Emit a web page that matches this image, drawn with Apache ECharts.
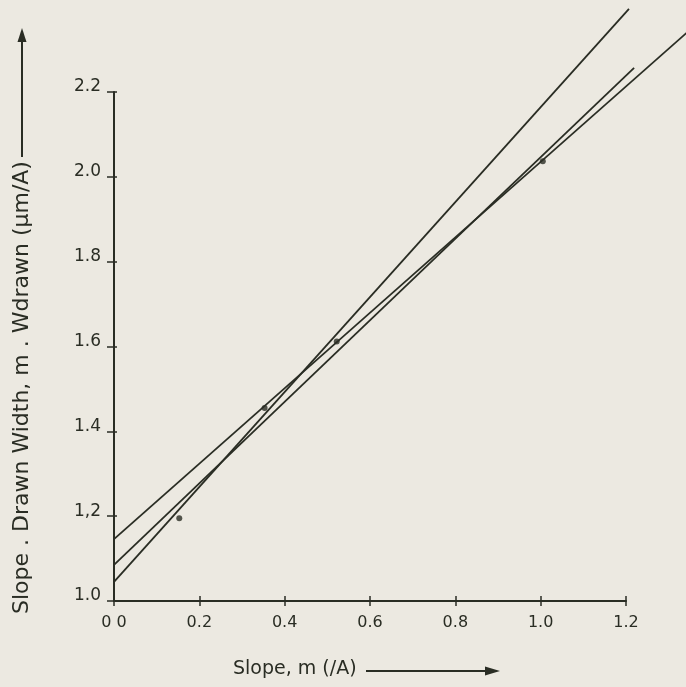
<!DOCTYPE html>
<html>
<head>
<meta charset="utf-8">
<script src="https://cdn.jsdelivr.net/npm/echarts@6/dist/echarts.min.js"></script>
<style>
  html, body { margin: 0; padding: 0; background: #ece9e1; }
  #chart { width: 686px; height: 687px; }
</style>
</head>
<body>
<div id="chart"></div>
<script>
// Axis ticks
const xTicks = [0.0, 0.2, 0.4, 0.6, 0.8, 1.0, 1.2];
const yTicks = [1.0, 1.2, 1.4, 1.6, 1.8, 2.0, 2.2];
const xTickText = ['0 0', '0.2', '0.4', '0.6', '0.8', '1.0', '1.2'];
const yTickText = ['1.0', '1,2', '1.4', '1.6', '1.8', '2.0', '2.2'];

// Measured points: slope m, and slope x drawn width
const pointM = [0.153, 0.353, 0.522, 1.005];
const pointMW = [1.195, 1.455, 1.612, 2.037];

// Fitted straight lines, each as [m1, mW1, m2, mW2]
const lineSteep = [0, 1.045, 1.207, 2.396];
const lineMiddle = [0, 1.085, 1.219, 2.257];
const lineShallow = [0, 1.146, 1.345, 2.342];

const yTitle = 'Slope . Drawn Width, m . Wdrawn (μm/A)';
const xTitle = 'Slope, m (/A)';

const ink = '#2a2d24';
const font = 'DejaVu Sans';
const titleFont = '22px "' + font + '"';

// width of the vertical title, so its arrow can start right where the text ends
const measureCtx = document.createElement('canvas').getContext('2d');
measureCtx.font = titleFont;
const yTitleLen = measureCtx.measureText(yTitle).width;
const yTitleStart = 614;
const yArrowStart = yTitleStart - yTitleLen - 4;

const chart = echarts.init(document.getElementById('chart'));

const baseX = { type: 'value', min: 0, max: 1.2, interval: 0.2, splitLine: { show: false } };
const baseY = { type: 'value', min: 1.0, max: 2.2, interval: 0.2, splitLine: { show: false } };

chart.setOption({
  backgroundColor: '#ece9e1',
  animation: false,
  grid: { left: 114, right: 60, top: 92, bottom: 86 },
  xAxis: [
    Object.assign({}, baseX, {
      axisLine: { show: true, lineStyle: { color: ink, width: 2 } },
      axisTick: { show: true, length: 5, lineStyle: { color: ink, width: 1.5 } },
      axisLabel: {
        color: ink, fontFamily: font, fontSize: 16, margin: 14,
        formatter: v => xTickText[xTicks.findIndex(t => Math.abs(t - v) < 1e-6)]
      }
    }),
    Object.assign({}, baseX, {
      position: 'bottom',
      axisLine: { show: false },
      axisTick: { show: true, inside: true, length: 5, lineStyle: { color: ink, width: 1.5 } },
      axisLabel: { show: false }
    })
  ],
  yAxis: [
    Object.assign({}, baseY, {
      axisLine: { show: true, lineStyle: { color: ink, width: 2 } },
      axisTick: { show: true, length: 7, lineStyle: { color: ink, width: 1.5 } },
      axisLabel: {
        color: ink, fontFamily: font, fontSize: 17, margin: 13,
        verticalAlign: 'bottom', lineHeight: 10,
        formatter: v => yTickText[yTicks.findIndex(t => Math.abs(t - v) < 1e-6)]
      }
    }),
    Object.assign({}, baseY, {
      position: 'left',
      axisLine: { show: false },
      axisTick: { show: true, inside: true, length: 3, lineStyle: { color: ink, width: 1.5 } },
      axisLabel: { show: false }
    })
  ],
  series: [
    {
      // straight fits drawn from end points, allowed to run past the axis box
      type: 'custom',
      clip: false,
      silent: true,
      data: [lineSteep, lineMiddle, lineShallow],
      renderItem: (params, api) => {
        const p1 = api.coord([api.value(0), api.value(1)]);
        const p2 = api.coord([api.value(2), api.value(3)]);
        return {
          type: 'line',
          shape: { x1: p1[0], y1: p1[1], x2: p2[0], y2: p2[1] },
          style: { stroke: ink, lineWidth: 1.8 }
        };
      },
      encode: { x: [0, 2], y: [1, 3] },
      z: 3
    },
    {
      type: 'scatter',
      data: pointM.map((m, i) => [m, pointMW[i]]),
      symbol: 'circle',
      symbolSize: 6,
      itemStyle: { color: ink },
      z: 4
    }
  ],
  graphic: [
    // vertical axis title with upward arrow
    {
      type: 'text',
      x: 11, y: yTitleStart,
      rotation: Math.PI / 2,
      style: { text: yTitle, font: titleFont, fill: ink }
    },
    {
      type: 'line',
      shape: { x1: 22, y1: yArrowStart, x2: 22, y2: 40 },
      style: { stroke: ink, lineWidth: 2 }
    },
    {
      type: 'polygon',
      shape: { points: [[22, 28], [17.5, 42], [26.5, 42]] },
      style: { fill: ink }
    },
    // horizontal axis title with rightward arrow
    {
      type: 'text',
      x: 233, y: 660,
      style: { text: xTitle, font: '19px "' + font + '"', fill: ink }
    },
    {
      type: 'line',
      shape: { x1: 366, y1: 671, x2: 486, y2: 671 },
      style: { stroke: ink, lineWidth: 2 }
    },
    {
      type: 'polygon',
      shape: { points: [[500, 671], [485, 666.5], [485, 675.5]] },
      style: { fill: ink }
    }
  ]
});
</script>
</body>
</html>
